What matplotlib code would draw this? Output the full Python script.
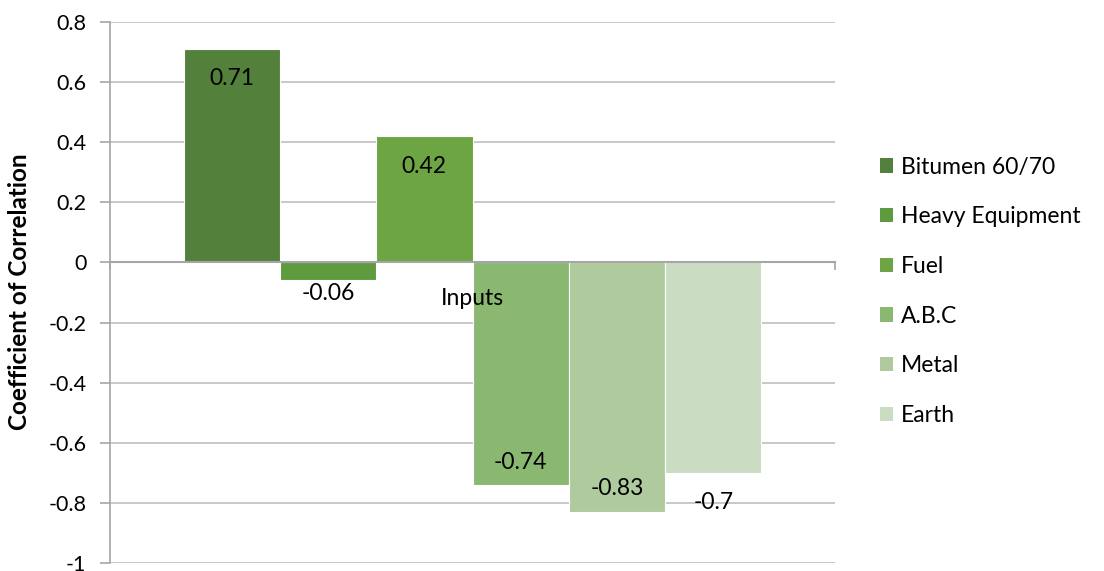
import matplotlib
matplotlib.use("Agg")
import matplotlib.pyplot as plt
from matplotlib.patches import Patch

categories = ["Bitumen 60/70", "Heavy Equipment", "Fuel", "A.B.C", "Metal", "Earth"]
values = [0.71, -0.06, 0.42, -0.74, -0.83, -0.7]
group_label = "Inputs"
yticks = [0.8, 0.6, 0.4, 0.2, 0, -0.2, -0.4, -0.6, -0.8, -1]
ytick_labels = ["0.8", "0.6", "0.4", "0.2", "0", "-0.2", "-0.4", "-0.6", "-0.8", "-1"]
ylabel = "Coefficient of Correlation"

colors = ["#53803A", "#5E9A3E", "#6DA544", "#8AB870", "#AFCB9E", "#CADCC2"]
# label vertical offsets in points (style only)
label_offsets = [-21.5, -9.5, -21.5, 16, 17, -21.5]

plt.rcParams["font.family"] = ["Lato", "DejaVu Sans"]
FS = 16.5

fig = plt.figure(figsize=(11.04, 5.71), dpi=100)
W, H = 1104, 571
ax = fig.add_axes([110 / W, 1 - 563 / H, (835 - 110) / W, (563 - 22) / H])

n = len(values)
group_frac = 0.797
w = group_frac / n
xs = [(i - (n - 1) / 2) * w for i in range(n)]

ax.bar(xs, values, width=w, color=colors, edgecolor="white", linewidth=0.8, zorder=2)

for x, v, off in zip(xs, values, label_offsets):
    ax.annotate(f"{v:g}", (x, v), xytext=(0, off), textcoords="offset points",
                ha="center", va="center", fontsize=FS, color="black", zorder=5)

ax.set_xlim(-0.5, 0.5)
ax.set_ylim(-1, 0.8)
ax.set_yticks(yticks)
ax.set_yticklabels(ytick_labels, fontsize=15.5)
ax.yaxis.grid(True, color="#BFBFBF", linewidth=1.2, zorder=0)
ax.set_axisbelow(True)
ax.tick_params(axis="y", length=7, width=1.2, color="#A6A6A6", pad=10)

for s in ["top", "right"]:
    ax.spines[s].set_visible(False)
ax.spines["left"].set_color("#A6A6A6")
ax.spines["left"].set_linewidth(1.2)
ax.spines["bottom"].set_position(("data", 0))
ax.spines["bottom"].set_color("#A6A6A6")
ax.spines["bottom"].set_linewidth(1.5)
ax.spines["bottom"].set_zorder(3)

ax.set_xticks([])
ax.set_xticks([-0.5, 0.5], minor=True)
ax.tick_params(axis="x", which="minor", length=6, width=1.2, color="#A6A6A6", direction="out")
ax.annotate(group_label, (0, 0), xytext=(0, -26), textcoords="offset points",
            ha="center", va="center", fontsize=FS, zorder=6)

ax.set_ylabel(ylabel, fontsize=17.5, fontweight="bold")
ax.yaxis.set_label_coords((31 - 110) / 725, (563 - 292) / 541)

handles = [Patch(facecolor=c, edgecolor="none") for c in colors]
fig.legend(handles, categories, loc="upper left", bbox_to_anchor=(859 / W, 1 - 136 / H),
           frameon=False, fontsize=FS, handlelength=0.57, handleheight=0.57,
           handletextpad=0.35, labelspacing=1.25)

fig.savefig("out.png", dpi=100)
